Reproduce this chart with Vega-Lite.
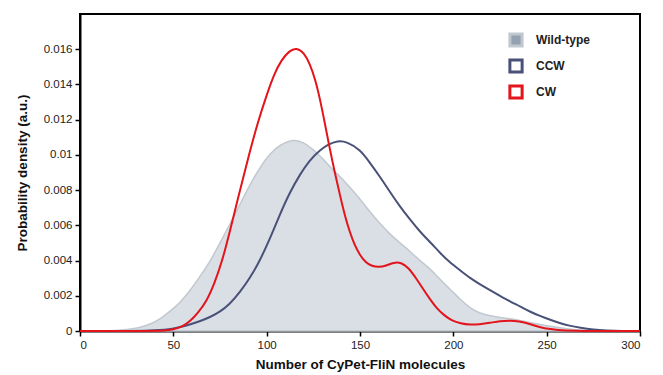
{
  "$schema": "https://vega.github.io/schema/vega-lite/v6.json",
  "width": 560,
  "height": 317,
  "autosize": {"type": "none"},
  "padding": {"left": 80, "top": 14, "right": 23, "bottom": 44},
  "background": "white",
  "config": {
    "font": "Liberation Sans",
    "view": {"stroke": "black", "strokeWidth": 2},
    "axis": {
      "grid": false,
      "domainColor": "black",
      "domainWidth": 2,
      "tickColor": "black",
      "tickWidth": 1.5,
      "tickSize": 5,
      "labelFont": "Liberation Sans",
      "labelFontSize": 11.5,
      "labelColor": "#222222",
      "titleFont": "Liberation Sans",
      "titleFontSize": 13.5,
      "titleFontWeight": "bold",
      "titleColor": "#111111"
    }
  },
  "data": {
    "values": [
      {"x": 0, "d": 0, "series": "Wild-type"},
      {"x": 10, "d": 0, "series": "Wild-type"},
      {"x": 20, "d": 0.00003, "series": "Wild-type"},
      {"x": 25, "d": 0.00008, "series": "Wild-type"},
      {"x": 32, "d": 0.00018, "series": "Wild-type"},
      {"x": 38, "d": 0.0004, "series": "Wild-type"},
      {"x": 43, "d": 0.00068, "series": "Wild-type"},
      {"x": 48, "d": 0.0011, "series": "Wild-type"},
      {"x": 53.6, "d": 0.0016, "series": "Wild-type"},
      {"x": 59, "d": 0.0023, "series": "Wild-type"},
      {"x": 64.3, "d": 0.0031, "series": "Wild-type"},
      {"x": 70, "d": 0.004, "series": "Wild-type"},
      {"x": 75, "d": 0.005, "series": "Wild-type"},
      {"x": 80, "d": 0.006, "series": "Wild-type"},
      {"x": 85.7, "d": 0.0072, "series": "Wild-type"},
      {"x": 91, "d": 0.0083, "series": "Wild-type"},
      {"x": 96.4, "d": 0.0093, "series": "Wild-type"},
      {"x": 102, "d": 0.0101, "series": "Wild-type"},
      {"x": 107, "d": 0.01057, "series": "Wild-type"},
      {"x": 114.6, "d": 0.0109, "series": "Wild-type"},
      {"x": 120, "d": 0.0107, "series": "Wild-type"},
      {"x": 125, "d": 0.0103, "series": "Wild-type"},
      {"x": 130, "d": 0.0098, "series": "Wild-type"},
      {"x": 135, "d": 0.0092, "series": "Wild-type"},
      {"x": 140, "d": 0.0087, "series": "Wild-type"},
      {"x": 145, "d": 0.0081, "series": "Wild-type"},
      {"x": 150, "d": 0.0075, "series": "Wild-type"},
      {"x": 155, "d": 0.0068, "series": "Wild-type"},
      {"x": 160.7, "d": 0.0061, "series": "Wild-type"},
      {"x": 166, "d": 0.0055, "series": "Wild-type"},
      {"x": 171.4, "d": 0.005, "series": "Wild-type"},
      {"x": 177, "d": 0.0045, "series": "Wild-type"},
      {"x": 182, "d": 0.004, "series": "Wild-type"},
      {"x": 188, "d": 0.0035, "series": "Wild-type"},
      {"x": 193, "d": 0.0029, "series": "Wild-type"},
      {"x": 198, "d": 0.0024, "series": "Wild-type"},
      {"x": 203.6, "d": 0.0018, "series": "Wild-type"},
      {"x": 209, "d": 0.0013, "series": "Wild-type"},
      {"x": 214.3, "d": 0.001, "series": "Wild-type"},
      {"x": 220, "d": 0.00085, "series": "Wild-type"},
      {"x": 225, "d": 0.00077, "series": "Wild-type"},
      {"x": 230, "d": 0.0007, "series": "Wild-type"},
      {"x": 235.7, "d": 0.0006, "series": "Wild-type"},
      {"x": 241, "d": 0.00048, "series": "Wild-type"},
      {"x": 246.4, "d": 0.00037, "series": "Wild-type"},
      {"x": 252, "d": 0.00026, "series": "Wild-type"},
      {"x": 257, "d": 0.00018, "series": "Wild-type"},
      {"x": 263, "d": 0.0001, "series": "Wild-type"},
      {"x": 268, "d": 0.00005, "series": "Wild-type"},
      {"x": 275, "d": 0.00002, "series": "Wild-type"},
      {"x": 285, "d": 0, "series": "Wild-type"},
      {"x": 300, "d": 0, "series": "Wild-type"},

      {"x": 0, "d": 0, "series": "CCW"},
      {"x": 30, "d": 0, "series": "CCW"},
      {"x": 40, "d": 0.00003, "series": "CCW"},
      {"x": 50, "d": 0.00012, "series": "CCW"},
      {"x": 57, "d": 0.0003, "series": "CCW"},
      {"x": 64.3, "d": 0.00055, "series": "CCW"},
      {"x": 70, "d": 0.0008, "series": "CCW"},
      {"x": 75, "d": 0.0011, "series": "CCW"},
      {"x": 80, "d": 0.0015, "series": "CCW"},
      {"x": 85.7, "d": 0.0022, "series": "CCW"},
      {"x": 91, "d": 0.003, "series": "CCW"},
      {"x": 96.4, "d": 0.004, "series": "CCW"},
      {"x": 102, "d": 0.0053, "series": "CCW"},
      {"x": 107, "d": 0.0066, "series": "CCW"},
      {"x": 112, "d": 0.0078, "series": "CCW"},
      {"x": 117.9, "d": 0.0089, "series": "CCW"},
      {"x": 123, "d": 0.0097, "series": "CCW"},
      {"x": 128.6, "d": 0.01028, "series": "CCW"},
      {"x": 133, "d": 0.0106, "series": "CCW"},
      {"x": 138, "d": 0.0108, "series": "CCW"},
      {"x": 143, "d": 0.01075, "series": "CCW"},
      {"x": 150, "d": 0.0103, "series": "CCW"},
      {"x": 155, "d": 0.0096, "series": "CCW"},
      {"x": 160.7, "d": 0.00876, "series": "CCW"},
      {"x": 166, "d": 0.0079, "series": "CCW"},
      {"x": 171.4, "d": 0.00706, "series": "CCW"},
      {"x": 177, "d": 0.0063, "series": "CCW"},
      {"x": 182, "d": 0.00565, "series": "CCW"},
      {"x": 188, "d": 0.005, "series": "CCW"},
      {"x": 193, "d": 0.00442, "series": "CCW"},
      {"x": 198, "d": 0.0039, "series": "CCW"},
      {"x": 203.6, "d": 0.00345, "series": "CCW"},
      {"x": 209, "d": 0.003, "series": "CCW"},
      {"x": 214.3, "d": 0.00265, "series": "CCW"},
      {"x": 220, "d": 0.0023, "series": "CCW"},
      {"x": 225, "d": 0.002, "series": "CCW"},
      {"x": 230, "d": 0.0017, "series": "CCW"},
      {"x": 235.7, "d": 0.0014, "series": "CCW"},
      {"x": 241, "d": 0.0011, "series": "CCW"},
      {"x": 246.4, "d": 0.00085, "series": "CCW"},
      {"x": 252, "d": 0.00063, "series": "CCW"},
      {"x": 257, "d": 0.00045, "series": "CCW"},
      {"x": 262, "d": 0.0003, "series": "CCW"},
      {"x": 268, "d": 0.00018, "series": "CCW"},
      {"x": 275, "d": 0.00008, "series": "CCW"},
      {"x": 282, "d": 0.00003, "series": "CCW"},
      {"x": 290, "d": 0, "series": "CCW"},
      {"x": 300, "d": 0, "series": "CCW"},

      {"x": 0, "d": 0, "series": "CW"},
      {"x": 40, "d": 0, "series": "CW"},
      {"x": 45, "d": 0.00002, "series": "CW"},
      {"x": 50, "d": 0.00008, "series": "CW"},
      {"x": 55, "d": 0.00025, "series": "CW"},
      {"x": 59, "d": 0.00055, "series": "CW"},
      {"x": 63, "d": 0.001, "series": "CW"},
      {"x": 67.9, "d": 0.0017, "series": "CW"},
      {"x": 72, "d": 0.0027, "series": "CW"},
      {"x": 76, "d": 0.0039, "series": "CW"},
      {"x": 80.4, "d": 0.0057, "series": "CW"},
      {"x": 85.7, "d": 0.008, "series": "CW"},
      {"x": 91, "d": 0.0102, "series": "CW"},
      {"x": 95.4, "d": 0.0119, "series": "CW"},
      {"x": 100, "d": 0.0134, "series": "CW"},
      {"x": 104, "d": 0.0146, "series": "CW"},
      {"x": 108, "d": 0.0154, "series": "CW"},
      {"x": 112, "d": 0.0159, "series": "CW"},
      {"x": 116, "d": 0.0161, "series": "CW"},
      {"x": 120, "d": 0.0158, "series": "CW"},
      {"x": 123, "d": 0.0152, "series": "CW"},
      {"x": 126, "d": 0.0143, "series": "CW"},
      {"x": 128.5, "d": 0.0132, "series": "CW"},
      {"x": 131, "d": 0.0119, "series": "CW"},
      {"x": 133.5, "d": 0.0105, "series": "CW"},
      {"x": 136.5, "d": 0.009, "series": "CW"},
      {"x": 139.3, "d": 0.0077, "series": "CW"},
      {"x": 142, "d": 0.0065, "series": "CW"},
      {"x": 144.6, "d": 0.0056, "series": "CW"},
      {"x": 147, "d": 0.0049, "series": "CW"},
      {"x": 150, "d": 0.0043, "series": "CW"},
      {"x": 153, "d": 0.0039, "series": "CW"},
      {"x": 156, "d": 0.0037, "series": "CW"},
      {"x": 160, "d": 0.00362, "series": "CW"},
      {"x": 164, "d": 0.0037, "series": "CW"},
      {"x": 168, "d": 0.0039, "series": "CW"},
      {"x": 172, "d": 0.0039, "series": "CW"},
      {"x": 176, "d": 0.0036, "series": "CW"},
      {"x": 180, "d": 0.003, "series": "CW"},
      {"x": 184, "d": 0.00235, "series": "CW"},
      {"x": 187.5, "d": 0.0018, "series": "CW"},
      {"x": 191, "d": 0.0013, "series": "CW"},
      {"x": 195, "d": 0.0009, "series": "CW"},
      {"x": 199, "d": 0.0006, "series": "CW"},
      {"x": 204, "d": 0.00042, "series": "CW"},
      {"x": 209, "d": 0.00035, "series": "CW"},
      {"x": 214, "d": 0.00038, "series": "CW"},
      {"x": 219.6, "d": 0.00046, "series": "CW"},
      {"x": 225, "d": 0.00056, "series": "CW"},
      {"x": 230.4, "d": 0.0006, "series": "CW"},
      {"x": 235, "d": 0.00055, "series": "CW"},
      {"x": 241, "d": 0.0004, "series": "CW"},
      {"x": 246, "d": 0.00022, "series": "CW"},
      {"x": 252, "d": 0.0001, "series": "CW"},
      {"x": 258, "d": 0.00003, "series": "CW"},
      {"x": 265, "d": 0, "series": "CW"},
      {"x": 300, "d": 0, "series": "CW"}
    ]
  },
  "encoding": {
    "x": {
      "field": "x",
      "type": "quantitative",
      "scale": {"domain": [0, 300], "nice": false, "zero": false},
      "axis": {"values": [0, 50, 100, 150, 200, 250, 300], "title": "Number of CyPet-FliN molecules", "titlePadding": 7, "labelPadding": 3}
    },
    "y": {
      "field": "d",
      "type": "quantitative",
      "scale": {"domain": [0, 0.018], "nice": false},
      "axis": {"values": [0, 0.002, 0.004, 0.006, 0.008, 0.01, 0.012, 0.014, 0.016], "format": "~g", "title": "Probability density (a.u.)", "titlePadding": 14, "labelPadding": 3}
    },
    "stroke": {
      "field": "series",
      "type": "nominal",
      "scale": {"domain": ["Wild-type", "CCW", "CW"], "range": ["#c2c8cf", "#4a5178", "#e3141b"]},
      "legend": {
        "title": null,
        "orient": "none",
        "legendX": 428,
        "legendY": 18,
        "padding": 0,
        "symbolType": "square",
        "symbolSize": 150,
        "symbolStrokeWidth": 3,
        "labelFont": "Liberation Sans",
        "labelFontSize": 12,
        "labelFontWeight": "bold",
        "labelColor": "#222222",
        "labelOffset": 12,
        "rowPadding": 0,
        "encode": {
          "symbols": {
            "update": {
              "fill": {"signal": "datum.value === 'Wild-type' ? '#93a1b3' : '#ffffff'"},
              "stroke": {"signal": "datum.value === 'Wild-type' ? '#b8c2ce' : (datum.value === 'CCW' ? '#4d5681' : '#c9244c')"},
              "opacity": {"value": 1},
              "fillOpacity": {"value": 1}
            }
          }
        }
      }
    }
  },
  "layer": [
    {
      "transform": [{"filter": "datum.series === 'Wild-type'"}],
      "mark": {"type": "area", "interpolate": "basis", "fill": "#d9dfe5", "fillOpacity": 1, "strokeWidth": 1.5}
    },
    {
      "transform": [{"filter": "datum.series === 'CCW'"}],
      "mark": {"type": "line", "interpolate": "basis", "strokeWidth": 2}
    },
    {
      "transform": [{"filter": "datum.series === 'CW'"}],
      "mark": {"type": "line", "interpolate": "basis", "strokeWidth": 2}
    }
  ]
}
